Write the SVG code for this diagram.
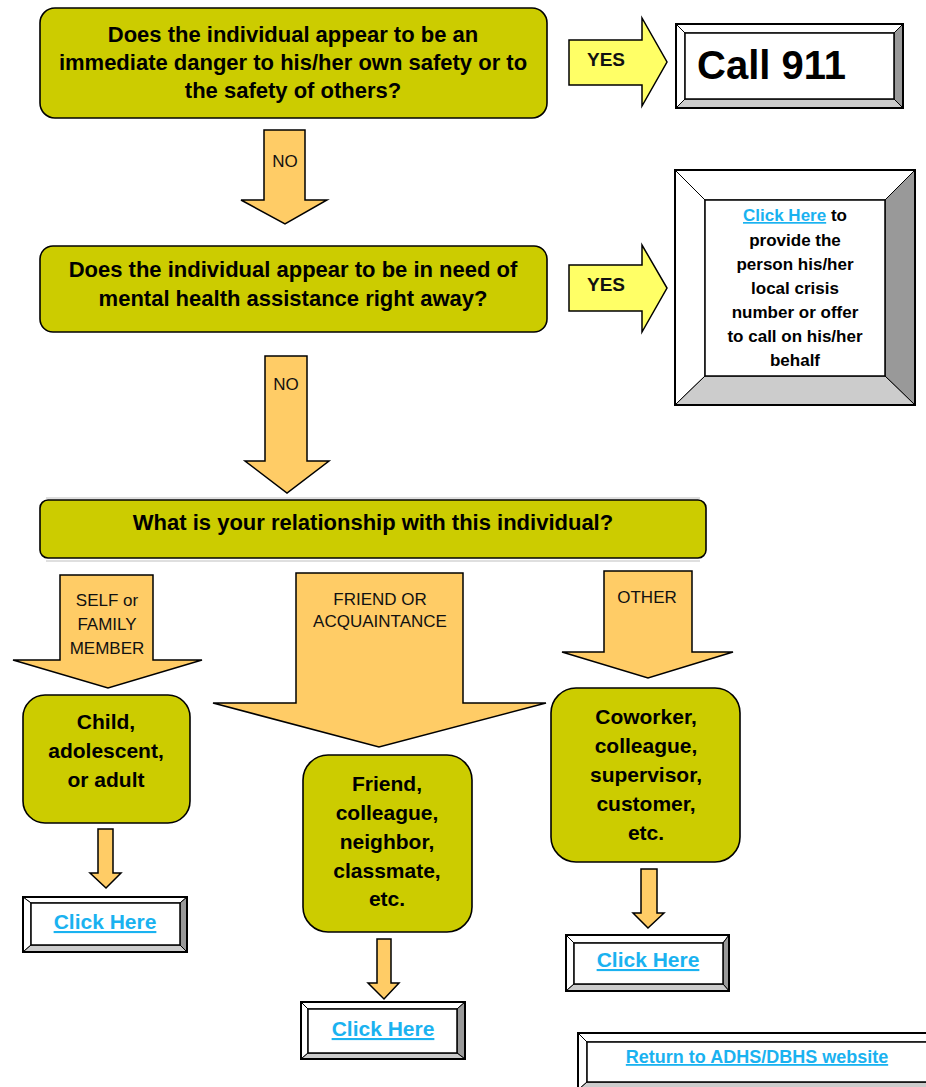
<svg xmlns="http://www.w3.org/2000/svg" width="926" height="1087" viewBox="0 0 926 1087">
<style>
.q{fill:#CCCC00;stroke:#000;stroke-width:1.6}
.qt{font-family:"Liberation Sans",Arial,sans-serif;font-weight:bold;font-size:22px;fill:#000;text-anchor:middle}
.bt{font-family:"Liberation Sans",Arial,sans-serif;font-weight:bold;font-size:21px;fill:#000;text-anchor:middle}
.arr{fill:#FFCC66;stroke:#000;stroke-width:1.5;stroke-linejoin:miter}
.yes{fill:#FFFF66;stroke:#000;stroke-width:1.5}
.lbl{font-family:"Liberation Sans",Arial,sans-serif;font-size:17px;fill:#111;text-anchor:middle}
.ylbl{font-family:"Liberation Sans",Arial,sans-serif;font-weight:bold;font-size:19px;fill:#111;text-anchor:middle}
.bw{fill:#fff;stroke:#000;stroke-width:1}
.bd{fill:#999;stroke:#000;stroke-width:1}
.bl{fill:#ccc;stroke:#000;stroke-width:1}
.out{fill:none;stroke:#000;stroke-width:2}
.in{fill:#fff;stroke:#000;stroke-width:1.5}
.link{font-family:"Liberation Sans",Arial,sans-serif;font-weight:bold;fill:#1AB2F0;text-decoration:underline}
.ct{font-family:"Liberation Sans",Arial,sans-serif;font-weight:bold;font-size:17px;fill:#000;text-anchor:middle}
.sep{stroke:#d4d4d4;stroke-width:1.5}
</style>

<g id="separators">
<line class="sep" x1="46" y1="498" x2="700" y2="498"/>
<line class="sep" x1="46" y1="561" x2="700" y2="561"/>
</g>

<g id="q1">
<rect class="q" x="40" y="8" width="507" height="110" rx="15"/>
<text class="qt" x="293" y="42">Does the individual appear to be an</text>
<text class="qt" x="293" y="70">immediate danger to his/her own safety or to</text>
<text class="qt" x="293" y="98">the safety of others?</text>
</g>

<g id="call911">
<polygon class="bw" points="676,24 903,24 894,33 685,33"/>
<polygon class="bw" points="676,24 685,33 685,99 676,108"/>
<polygon class="bd" points="903,24 903,108 894,99 894,33"/>
<polygon class="bl" points="676,108 903,108 894,99 685,99"/>
<rect class="in" x="685" y="33" width="209" height="66"/>
<rect class="out" x="676" y="24" width="227" height="84"/>
<text x="697" y="79" font-family="Liberation Sans,Arial,sans-serif" font-weight="bold" font-size="40" fill="#000">Call 911</text>
</g>

<g id="q2">
<rect class="q" x="40" y="246" width="507" height="86" rx="13"/>
<text class="qt" x="293" y="277">Does the individual appear to be in need of</text>
<text class="qt" x="293" y="306">mental health assistance right away?</text>
</g>

<g id="crisis">
<polygon class="bw" points="675,170 915,170 885,200 705,200"/>
<polygon class="bw" points="675,170 705,200 705,376 675,405"/>
<polygon class="bd" points="915,170 915,405 885,376 885,200"/>
<polygon class="bl" points="675,405 915,405 885,376 705,376"/>
<rect class="in" x="705" y="200" width="180" height="176"/>
<rect class="out" x="675" y="170" width="240" height="235"/>
<text class="ct" x="795" y="221"><tspan class="link">Click Here</tspan> to</text>
<text class="ct" x="795" y="246">provide the</text>
<text class="ct" x="795" y="270">person his/her</text>
<text class="ct" x="795" y="294">local crisis</text>
<text class="ct" x="795" y="318">number or offer</text>
<text class="ct" x="795" y="342">to call on his/her</text>
<text class="ct" x="795" y="366">behalf</text>
</g>

<g id="q3">
<rect class="q" x="40" y="500" width="666" height="58" rx="8"/>
<text class="qt" x="373" y="530" font-size="23">What is your relationship with this individual?</text>
</g>

<g id="child">
<rect class="q" x="23" y="695" width="167" height="128" rx="22"/>
<text class="bt" x="106" y="729">Child,</text>
<text class="bt" x="106" y="758">adolescent,</text>
<text class="bt" x="106" y="787">or adult</text>
</g>

<g id="friend">
<rect class="q" x="303" y="755" width="169" height="177" rx="25"/>
<text class="bt" x="387" y="791">Friend,</text>
<text class="bt" x="387" y="820">colleague,</text>
<text class="bt" x="387" y="849">neighbor,</text>
<text class="bt" x="387" y="878">classmate,</text>
<text class="bt" x="387" y="906">etc.</text>
</g>

<g id="coworker">
<rect class="q" x="551" y="688" width="189" height="174" rx="25"/>
<text class="bt" x="646" y="724">Coworker,</text>
<text class="bt" x="646" y="753">colleague,</text>
<text class="bt" x="646" y="782">supervisor,</text>
<text class="bt" x="646" y="811">customer,</text>
<text class="bt" x="646" y="840">etc.</text>
</g>

<g id="click1">
<polygon class="bw" points="23,897 187,897 180,903 31,903"/>
<polygon class="bw" points="23,897 31,903 31,945 23,952"/>
<polygon class="bd" points="187,897 187,952 180,945 180,903"/>
<polygon class="bl" points="23,952 187,952 180,945 31,945"/>
<rect class="in" x="31" y="903" width="149" height="42"/>
<rect class="out" x="23" y="897" width="164" height="55"/>
<text class="link" x="105" y="929" font-size="21" text-anchor="middle">Click Here</text>
</g>

<g id="click2">
<polygon class="bw" points="301,1002 465,1002 457,1009 308,1009"/>
<polygon class="bw" points="301,1002 308,1009 308,1053 301,1059"/>
<polygon class="bd" points="465,1002 465,1059 457,1053 457,1009"/>
<polygon class="bl" points="301,1059 465,1059 457,1053 308,1053"/>
<rect class="in" x="308" y="1009" width="149" height="44"/>
<rect class="out" x="301" y="1002" width="164" height="57"/>
<text class="link" x="383" y="1036" font-size="21" text-anchor="middle">Click Here</text>
</g>

<g id="click3">
<polygon class="bw" points="566,935 729,935 723,943 574,943"/>
<polygon class="bw" points="566,935 574,943 574,984 566,991"/>
<polygon class="bd" points="729,935 729,991 723,984 723,943"/>
<polygon class="bl" points="566,991 729,991 723,984 574,984"/>
<rect class="in" x="574" y="943" width="149" height="41"/>
<rect class="out" x="566" y="935" width="163" height="56"/>
<text class="link" x="648" y="967" font-size="21" text-anchor="middle">Click Here</text>
</g>

<g id="return">
<polygon class="bw" points="578,1033 940,1033 930,1042 587,1042"/>
<polygon class="bw" points="578,1033 587,1042 587,1082 578,1090"/>
<polygon class="bl" points="578,1090 940,1090 930,1082 587,1082"/>
<rect class="in" x="587" y="1042" width="343" height="40"/>
<rect class="out" x="578" y="1033" width="362" height="57"/>
<text class="link" x="757" y="1063" font-size="18" text-anchor="middle">Return to ADHS/DBHS website</text>
</g>

<g id="connectors">
<g id="no1">
<path class="arr" d="M264,130 H305 V200 H327 L285,224 L241,200 H264 Z"/>
<text class="lbl" x="285" y="167" font-size="20">NO</text>
</g>
<g id="yes1">
<path class="yes" d="M569,40 H642 V18 L667,62 L642,106 V85 H569 Z"/>
<text class="ylbl" x="606" y="66">YES</text>
</g>
<g id="no2">
<path class="arr" d="M265,356 H307 V461 H329 L287,493 L245,461 H265 Z"/>
<text class="lbl" x="286" y="390" font-size="20">NO</text>
</g>
<g id="yes2">
<path class="yes" d="M569,265 H642 V245 L667,288 L642,332 V311 H569 Z"/>
<text class="ylbl" x="606" y="291">YES</text>
</g>
<g id="self">
<path class="arr" d="M60,575 H153 V660 H202 L108,688 L13,660 H60 Z"/>
<text class="lbl" x="107" y="606">SELF or</text>
<text class="lbl" x="107" y="630">FAMILY</text>
<text class="lbl" x="107" y="654">MEMBER</text>
</g>
<g id="friendarrow">
<path class="arr" d="M296,573 H463 V703 H546 L379,747 L213,703 H296 Z"/>
<text class="lbl" x="380" y="605">FRIEND OR</text>
<text class="lbl" x="380" y="627">ACQUAINTANCE</text>
</g>
<g id="otherarrow">
<path class="arr" d="M604,571 H692 V652 H733 L648,678 L562,652 H604 Z"/>
<text class="lbl" x="647" y="603">OTHER</text>
</g>
<path class="arr" d="M98,829 H113 V873 H121 L106,888 L90,873 H98 Z"/>
<path class="arr" d="M377,939 H391 V983 H399 L384,999 L368,983 H377 Z"/>
<path class="arr" d="M641,869 H657 V913 H664 L648,928 L633,913 H641 Z"/>
</g>
</svg>
